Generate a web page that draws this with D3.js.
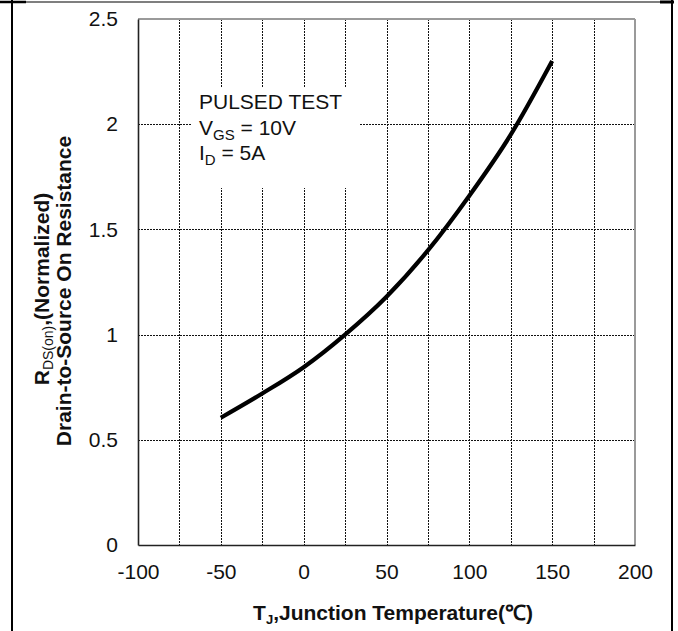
<!DOCTYPE html>
<html><head><meta charset="utf-8">
<script src="https://cdn.jsdelivr.net/npm/d3@7"></script>
<style>
html,body{margin:0;padding:0;background:#fff;}
svg{display:block;font-family:"Liberation Sans",Arial,sans-serif;}
</style></head>
<body>
<svg id="c" width="678" height="631"></svg>
<script>
const temps = [-50, -25, 0, 25, 50, 75, 100, 125, 150];
const rdsNorm = [0.605, 0.72, 0.845, 1.0, 1.18, 1.40, 1.66, 1.95, 2.30];
const xTicks = [-100, -50, 0, 50, 100, 150, 200];
const yTicks = [0, 0.5, 1, 1.5, 2, 2.5];
const xGrid = [-75, -50, -25, 0, 25, 50, 75, 100, 125, 150, 175];
const yGrid = [0.5, 1, 1.5, 2];
const noteLines = [["PULSED TEST", ""], ["V", "GS", " = 10V"], ["I", "D", " = 5A"]];

const svg = d3.select("#c");
const L = 138, R = 635, T = 19, B = 545;
const x = d3.scaleLinear().domain([-100, 200]).range([L, R]);
const y = d3.scaleLinear().domain([0, 2.5]).range([B, T]);
const px = v => Math.round(v) + 0.5;

// outer frame
svg.append("line").attr("x1", 12).attr("x2", 672).attr("y1", 2).attr("y2", 2).attr("stroke", "#000").attr("stroke-width", 1.2);
svg.append("line").attr("x1", 0).attr("x2", 26).attr("y1", 2).attr("y2", 2).attr("stroke", "#000").attr("stroke-width", 2.5);
svg.append("line").attr("x1", 660).attr("x2", 674).attr("y1", 2).attr("y2", 2).attr("stroke", "#000").attr("stroke-width", 3);
svg.append("line").attr("x1", 12).attr("x2", 12).attr("y1", 0).attr("y2", 631).attr("stroke", "#000").attr("stroke-width", 2);
svg.append("line").attr("x1", 672).attr("x2", 672).attr("y1", 0).attr("y2", 631).attr("stroke", "#000").attr("stroke-width", 2);

// grid
const g = svg.append("g").attr("shape-rendering", "crispEdges");
g.selectAll("line.vx").data(xGrid).join("line")
  .attr("x1", d => px(x(d))).attr("x2", d => px(x(d))).attr("y1", T).attr("y2", B)
  .attr("stroke", "#111").attr("stroke-width", 1).attr("stroke-dasharray", "2,1");
g.selectAll("line.hy").data(yGrid).join("line")
  .attr("x1", L).attr("x2", R).attr("y1", d => px(y(d))).attr("y2", d => px(y(d)))
  .attr("stroke", "#111").attr("stroke-width", 1).attr("stroke-dasharray", "2,1");

// note box (white background)
svg.append("rect").attr("x", 192).attr("y", 87).attr("width", 167).attr("height", 101).attr("fill", "#fff");
const note = svg.append("g").attr("font-size", 21).attr("fill", "#111");
const baselines = [109, 134.5, 160];
noteLines.forEach((ln, i) => {
  const t = note.append("text").attr("x", 199).attr("y", baselines[i]);
  if (ln.length === 2) { t.text(ln[0]); return; }
  t.append("tspan").text(ln[0]);
  t.append("tspan").attr("font-size", 15).attr("dy", 5).text(ln[1]);
  t.append("tspan").attr("dy", -5).text(ln[2]);
});

// plot border
svg.append("line").attr("x1", L).attr("x2", R).attr("y1", T).attr("y2", T).attr("stroke", "#9a9a9a").attr("stroke-width", 2);
svg.append("line").attr("x1", R).attr("x2", R).attr("y1", T).attr("y2", B).attr("stroke", "#9a9a9a").attr("stroke-width", 2);

// axes
const xAxis = svg.append("g").attr("transform", `translate(0,${B})`)
  .call(d3.axisBottom(x).tickValues(xTicks).tickSize(0).tickPadding(19).tickFormat(d => String(d)));
const yAxis = svg.append("g").attr("transform", `translate(${L},0)`)
  .call(d3.axisLeft(y).tickValues(yTicks).tickSize(0).tickPadding(20).tickFormat(d => String(d)));
[xAxis, yAxis].forEach(a => {
  a.select(".domain").attr("stroke", "#222").attr("stroke-width", 1.6);
  a.selectAll("text").attr("font-size", 21).attr("fill", "#111").attr("font-family", "Liberation Sans, Arial, sans-serif");
});

// curve
const line = d3.line().x((d, i) => x(temps[i])).y(d => y(d)).curve(d3.curveMonotoneX);
svg.append("path").datum(rdsNorm).attr("d", line)
  .attr("fill", "none").attr("stroke", "#000").attr("stroke-width", 4.2).attr("stroke-linecap", "butt");

// x title
const xt = svg.append("text").attr("x", 393).attr("y", 620).attr("text-anchor", "middle")
  .attr("font-size", 21).attr("font-weight", "bold").attr("fill", "#111");
xt.append("tspan").text("T");
xt.append("tspan").attr("font-size", 13).attr("dy", 4).text("J");
xt.append("tspan").attr("dy", -4).text(",Junction Temperature(℃)");

// y title
const yt = svg.append("g").attr("transform", "translate(0,289) rotate(-90)");
const y1 = yt.append("text").attr("x", 0).attr("y", 49).attr("text-anchor", "middle")
  .attr("font-size", 21).attr("font-weight", "bold").attr("fill", "#111");
y1.append("tspan").text("R");
y1.append("tspan").attr("font-size", 14).attr("font-weight", "normal").attr("dy", 4).text("DS(on)");
y1.append("tspan").attr("dy", -4).text(",(Normalized)");
yt.append("text").attr("x", -2).attr("y", 71).attr("text-anchor", "middle")
  .attr("font-size", 21).attr("font-weight", "bold").attr("fill", "#111")
  .text("Drain-to-Source On Resistance");
</script>
</body></html>
